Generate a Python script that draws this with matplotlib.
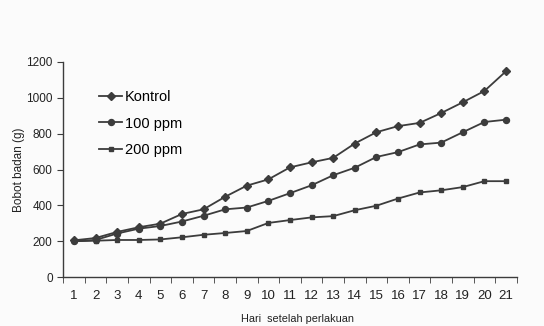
import matplotlib
matplotlib.use('Agg')
from matplotlib import pyplot as plt
import numpy as np

plt.rcParams['font.family'] = ['Liberation Sans', 'DejaVu Sans']

hari = list(range(1, 22))
kontrol = [205, 218, 252, 278, 298, 352, 378, 448, 510, 545, 612,
           640, 665, 745, 808, 842, 860, 915, 975, 1038, 1148]
ppm100 = [200, 207, 243, 270, 285, 310, 342, 378, 388, 425, 468,
          512, 568, 610, 670, 697, 740, 750, 808, 865, 878]
ppm200 = [200, 203, 207, 207, 210, 222, 236, 246, 257, 302, 318,
          333, 340, 373, 398, 438, 472, 484, 502, 535, 535]
labels = ['Kontrol', '100 ppm', '200 ppm']

warna = '#3c3c3c'

fig = plt.figure(figsize=(5.44, 3.26), dpi=100)
fig.patch.set_facecolor('#fbfbfb')
ax = fig.add_axes([0.116, 0.150, 0.834, 0.660])
ax.set_facecolor('#fbfbfb')

ax.plot(hari, kontrol, marker='D', ms=3.8, color=warna, lw=1.3, label=labels[0])
ax.plot(hari, ppm100, marker='o', ms=4.3, color=warna, lw=1.3, label=labels[1])
ax.plot(hari, ppm200, marker='s', ms=3.3, color=warna, lw=1.3, label=labels[2])

ax.set_xlim(0.5, 21.5)
ax.set_ylim(0, 1200)
ax.set_yticks(np.arange(0, 1201, 200))
ax.set_xticks(hari)
ax.set_xticks(np.arange(0.5, 21.6, 1), minor=True)
ax.tick_params(axis='x', which='major', length=0, labelsize=9.5, pad=9, colors='#222222')
ax.tick_params(axis='x', which='minor', length=4, direction='out', color=warna)
ax.tick_params(axis='y', length=4, labelsize=8.5, colors='#222222', color=warna)
for s in ['top', 'right']:
    ax.spines[s].set_visible(False)
for s in ['left', 'bottom']:
    ax.spines[s].set_color(warna)
    ax.spines[s].set_linewidth(1.0)

ax.set_ylabel('Bobot badan (g)', fontsize=8.5, color='#222222', labelpad=1)
fig.text(0.546, 0.012, 'Hari  setelah perlakuan', fontsize=7.8, color='#222222', ha='center')

ax.legend(loc='upper left', bbox_to_anchor=(0.05, 0.93), frameon=False, fontsize=10.5,
          handlelength=1.6, handletextpad=0.2, labelspacing=0.85)

plt.savefig('out.png', dpi=100, facecolor=fig.get_facecolor())
